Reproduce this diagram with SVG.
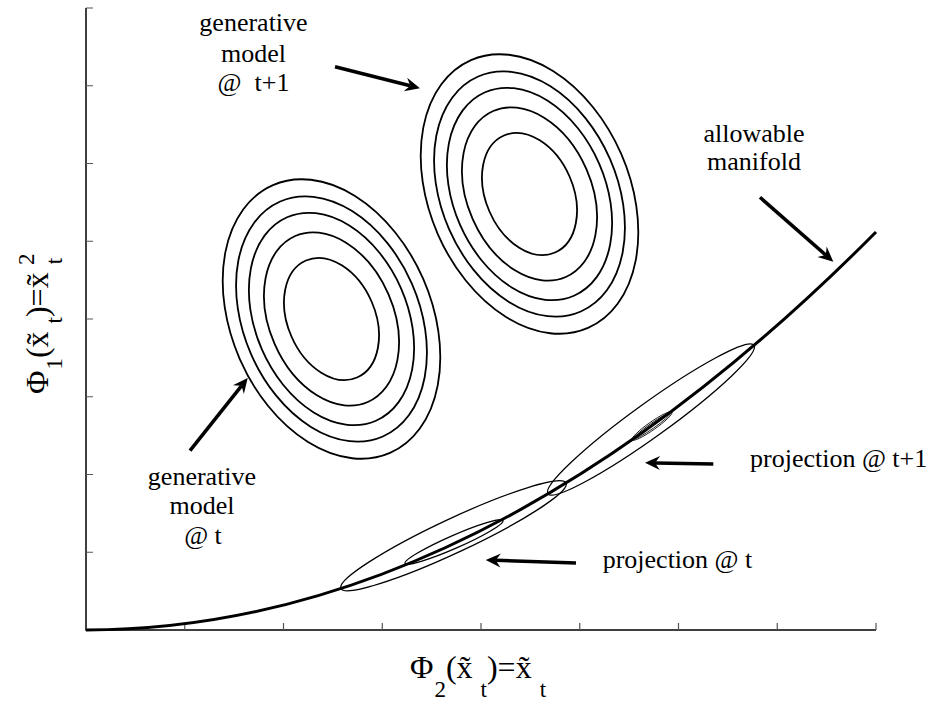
<svg xmlns="http://www.w3.org/2000/svg" width="936" height="706" viewBox="0 0 936 706">
<defs>
<style>
.lbl{font-family:"Liberation Serif","Times New Roman",serif;font-size:26px;fill:#000}
.ax{font-family:"Liberation Serif","Times New Roman",serif;font-size:32px;fill:#000}
.sub{font-size:23px}
.gen{fill:none;stroke:#000;stroke-width:1.8}
.proj{fill:none;stroke:#000;stroke-width:1.3}
.projin{fill:none;stroke:#000;stroke-width:0.8}
.arr{fill:none;stroke:#000;stroke-width:3.5;marker-end:url(#ah)}
.tick{stroke:#555;stroke-width:1.2}
</style>
<marker id="ah" markerUnits="userSpaceOnUse" viewBox="-16 -8 17 16" refX="-10" refY="0" markerWidth="17" markerHeight="16" orient="auto">
<path d="M0,0 L-15,-7 L-10,0 L-15,7 Z" fill="#000"/>
</marker>
</defs>
<rect width="936" height="706" fill="#fff"/>
<g id="axes">
<path d="M86,8 V630 H876" fill="none" stroke="#000" stroke-width="1.5"/>
<path class="tick" d="M86,8h7M86,85.75h7M86,163.5h7M86,241.25h7M86,319h7M86,396.75h7M86,474.5h7M86,552.25h7"/>
<path class="tick" d="M184.75,630v-7M283.5,630v-7M382.25,630v-7M481,630v-7M579.75,630v-7M678.5,630v-7M777.25,630v-7M876,630v-7"/>
<text class="ax" x="410" y="678">Φ<tspan class="sub" dx="1" dy="19">2</tspan><tspan dy="-19">(x̃</tspan><tspan class="sub" dx="8" dy="19">t</tspan><tspan dy="-19">)=x̃</tspan><tspan class="sub" dx="8" dy="19">t</tspan></text>
<text class="ax" transform="translate(48,394) rotate(-90)">Φ<tspan class="sub" dx="1" dy="14">1</tspan><tspan dy="-14">(x̃</tspan><tspan class="sub" dx="8" dy="14">t</tspan><tspan dy="-14">)=x̃</tspan><tspan class="sub" dx="8" dy="14">t</tspan><tspan class="sub" dx="-7" dy="-28">2</tspan></text>
</g>
<g id="manifold">
<path d="M86,630 Q481,630 876,232" fill="none" stroke="#000" stroke-width="3"/>
</g>
<g id="gen-t" transform="translate(331.5,319) rotate(-23.6)">
<ellipse class="gen" rx="43.7" ry="63.8"/>
<ellipse class="gen" rx="62.1" ry="90.6"/>
<ellipse class="gen" rx="76" ry="111"/>
<ellipse class="gen" rx="87.8" ry="128.2"/>
<ellipse class="gen" rx="100.1" ry="146.1"/>
</g>
<g id="gen-t1" transform="translate(529.5,194) rotate(-23.6)">
<ellipse class="gen" rx="43.7" ry="63.8"/>
<ellipse class="gen" rx="62.1" ry="90.6"/>
<ellipse class="gen" rx="76" ry="111"/>
<ellipse class="gen" rx="87.8" ry="128.2"/>
<ellipse class="gen" rx="100.1" ry="146.1"/>
</g>
<g id="proj-t">
<ellipse class="proj" transform="translate(453.5,535.75) rotate(-25.1)" rx="124.3" ry="17"/>
<ellipse class="proj" transform="translate(454,542) rotate(-23.7)" rx="53.5" ry="6.5"/>
</g>
<g id="proj-t1">
<ellipse class="proj" transform="translate(651,419.5) rotate(-35.8)" rx="127" ry="17"/>
<g transform="translate(652,426) rotate(-35)">
<ellipse class="projin" rx="24.4" ry="4"/>
<ellipse class="projin" rx="22" ry="2.6"/>
</g>
</g>
<g id="connectors">
<line class="arr" x1="335" y1="66.7" x2="410.3" y2="85.8"/>
<line class="arr" x1="190" y1="450.7" x2="241.5" y2="385.8"/>
<line class="arr" x1="760" y1="197.3" x2="825.8" y2="255.1"/>
<line class="arr" x1="713.3" y1="464" x2="655" y2="462.9"/>
<line class="arr" x1="576" y1="563" x2="495.7" y2="560.3"/>
</g>
<g id="label-gen-t1" class="lbl" text-anchor="middle">
<text x="253.5" y="31">generative</text>
<text x="253.5" y="61.7">model</text>
<text x="253.5" y="91" xml:space="preserve">@  t+1</text>
</g>
<g id="label-gen-t" class="lbl" text-anchor="middle">
<text x="202" y="485">generative</text>
<text x="202" y="514">model</text>
<text x="203" y="544">@ t</text>
</g>
<g id="label-manifold" class="lbl" text-anchor="middle">
<text x="754" y="141.7">allowable</text>
<text x="754" y="170">manifold</text>
</g>
<g id="label-proj-t1" class="lbl">
<text x="750" y="466.7">projection @ t+1</text>
</g>
<g id="label-proj-t" class="lbl">
<text x="602.7" y="568.3">projection @ t</text>
</g>
</svg>
